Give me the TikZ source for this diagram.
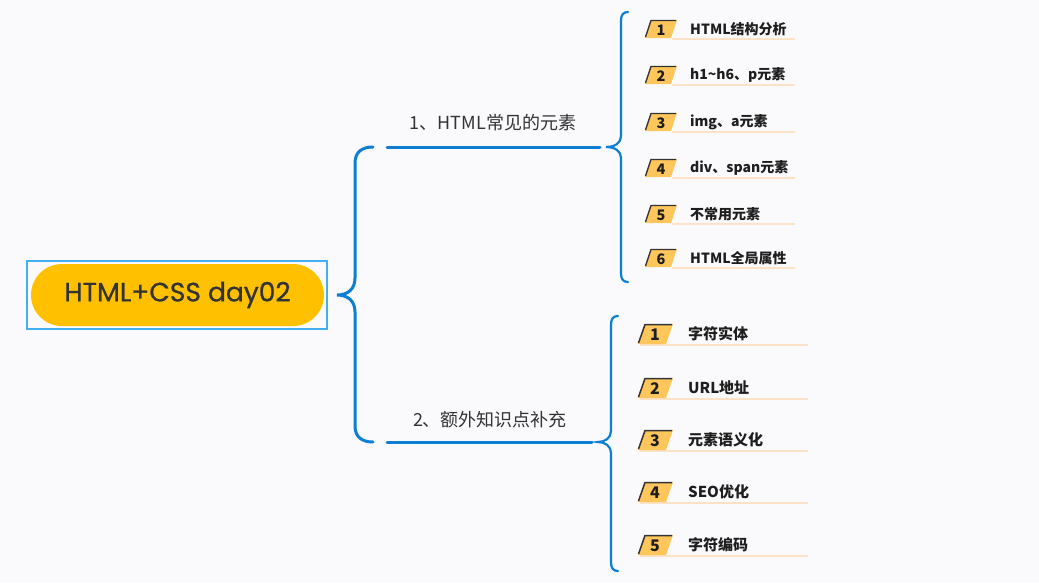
\documentclass[tikz,border=0pt]{standalone}
\usepackage{fontspec}
\setmainfont{Noto Sans CJK SC}
\newfontfamily\cjk{Noto Sans CJK SC}
\newfontfamily\rootfont{Poppins}[FakeBold=0.8]
\definecolor{bg}{HTML}{FAFAFD}
\definecolor{bblue}{HTML}{0C7FD2}
\definecolor{lblue}{HTML}{45AEF0}
\definecolor{gold}{HTML}{FFC000}
\definecolor{tagfill}{HTML}{FFC65C}
\definecolor{uline}{HTML}{FCE2C6}
\definecolor{txt}{HTML}{333333}
\definecolor{itxt}{HTML}{1E1E1E}
\tikzset{
  bracebig/.style={draw=bblue, line width=3pt, line cap=round},
  bracesmall/.style={draw=bblue, line width=2.2pt, line cap=round},
  branchlabel/.style={font=\cjk\fontsize{18}{21}\selectfont, text=txt, inner sep=0pt},
  itemA/.style={font=\cjk\bfseries\fontsize{14}{16}\selectfont, text=itxt, anchor=west, inner sep=0pt},
  itemB/.style={font=\cjk\bfseries\fontsize{15}{17}\selectfont, text=itxt, anchor=west, inner sep=0pt},
  numA/.style={font=\cjk\bfseries\fontsize{14.5}{16}\selectfont, text=itxt, inner sep=0pt},
  numB/.style={font=\cjk\bfseries\fontsize{16}{18}\selectfont, text=itxt, inner sep=0pt},
}
\begin{document}
\begin{tikzpicture}[x=1pt,y=-1pt]
\fill[bg] (0,0) rectangle (1039,582);
\useasboundingbox (0,0) rectangle (1039,582);

% root
\draw[lblue, line width=1.3pt] (27,261) rectangle (327,329);
\node[fill=gold, rounded corners=31pt, minimum width=293pt, minimum height=62pt, inner sep=0pt,
      font=\rootfont\fontsize{26.5}{30}\selectfont, text=txt] (root) at (177.5,295) {HTML+CSS day02};

% main brace
\coordinate (mtip) at (337,295);
\draw[bracebig] (373,147) .. controls (362,147) and (355,152) .. (355,163) -- (355,278)
   .. controls (355,289) and (348,295) .. (mtip)
   .. controls (348,295) and (355,301) .. (355,312) -- (355,426)
   .. controls (355,437) and (362,442) .. (373,442);

% branch labels and lines
\node[branchlabel] (b1) at (493,123) {1、HTML常见的元素};
\node[branchlabel] (b2) at (490,420) {2、额外知识点补充};
\coordinate (b1l) at (387,147); \coordinate (b1r) at (600,147);
\coordinate (b2l) at (387,442); \coordinate (b2r) at (592,442);
\draw[bracebig] (b1l) -- (b1r);
\draw[bracebig] (b2l) -- (b2r);

% right brace 1
\coordinate (t1) at (606,147);
\draw[bracesmall] (628,12) .. controls (623,12) and (621,15) .. (621,21) -- (621,136)
  .. controls (621,143) and (615,147) .. (t1)
  .. controls (615,147) and (621,151) .. (621,158) -- (621,273)
  .. controls (621,279) and (623,282) .. (628,282);
% right brace 2
\coordinate (t2) at (598,442);
\draw[bracesmall] (618,316) .. controls (613,316) and (611,319) .. (611,325) -- (611,431)
  .. controls (611,438) and (605,442) .. (t2)
  .. controls (605,442) and (611,446) .. (611,453) -- (611,562)
  .. controls (611,568) and (613,571) .. (618,571);

% group 1 items
\foreach \n/\y/\t in {1/29/HTML结构分析, 2/75/h1\textasciitilde h6、p元素, 3/122/img、a元素, 4/168/div、span元素, 5/214/不常用元素, 6/258/HTML全局属性}{
  \draw[uline, line width=1.2pt] (672,\y+10) -- (795,\y+10);
  \fill[tagfill] (645,\y+9) -- (651,\y-9) -- (677,\y-9) -- (671,\y+9) -- cycle;
  \draw[txt, line width=1.4pt, line join=round] (645.5,\y+8) -- (651,\y-8.5) -- (676,\y-8.5);
  \node[numA] (na\n) at (661,\y+1) {\n};
  \node[itemA] (ia\n) at (690,\y) {\t};
}

% group 2 items
\foreach \n/\y/\t in {1/334/字符实体, 2/388/URL地址, 3/440/元素语义化, 4/492/SEO优化, 5/545/字符编码}{
  \draw[uline, line width=1.2pt] (640,\y+11) -- (808,\y+11);
  \fill[tagfill] (638,\y+10) -- (645,\y-10) -- (673,\y-10) -- (666,\y+10) -- cycle;
  \draw[txt, line width=1.5pt, line join=round] (638.5,\y+9) -- (645,\y-9.5) -- (672,\y-9.5);
  \node[numB] (nb\n) at (655,\y+1) {\n};
  \node[itemB] (ib\n) at (688,\y) {\t};
}
\end{tikzpicture}
\end{document}
